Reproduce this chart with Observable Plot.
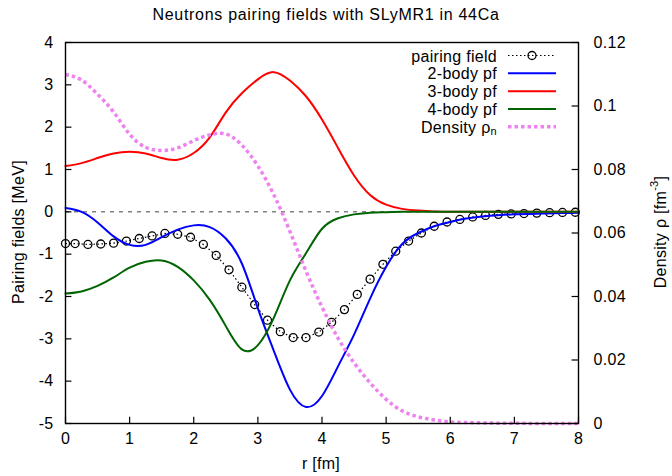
<!DOCTYPE html>
<html><head><meta charset="utf-8">
<script src="https://cdn.jsdelivr.net/npm/d3@7"></script>
<script src="https://cdn.jsdelivr.net/npm/@observablehq/plot@0.6"></script>
<style>html,body{margin:0;padding:0;background:#fff;overflow:hidden} svg{display:block}</style>
</head><body><div id="chart"></div>
<script>
// ---------- data ----------
const rGrid = [0,0.25,0.5,0.75,1,1.25,1.5,1.75,2,2.25,2.5,2.75,3,3.25,3.5,3.75,4,4.25,4.5,4.75,5,5.25,5.5,5.75,6,6.25,6.5,6.75,7,7.25,7.5,7.75,8];
const twoBody = [0.09,0.0,-0.25,-0.58,-0.78,-0.78,-0.60,-0.42,-0.32,-0.36,-0.63,-1.22,-2.28,-3.29,-4.20,-4.61,-4.35,-3.65,-2.90,-2.05,-1.30,-0.76,-0.50,-0.34,-0.24,-0.16,-0.11,-0.08,-0.06,-0.05,-0.04,-0.03,-0.02];
const threeBody = [1.08,1.15,1.27,1.38,1.42,1.38,1.27,1.23,1.39,1.76,2.35,2.80,3.13,3.30,3.10,2.73,2.18,1.51,0.86,0.40,0.17,0.07,0.03,0.01,0,0,0,0,0,0,0,0,0];
const fourBody = [-1.93,-1.88,-1.75,-1.55,-1.32,-1.18,-1.15,-1.30,-1.62,-2.08,-2.70,-3.25,-3.15,-2.50,-1.62,-0.98,-0.40,-0.15,-0.06,-0.02,-0.01,0,0,0,0,0,0,0,0,0,0,0,0];
const densityN = [0.1099,0.1082,0.1037,0.0981,0.0911,0.0870,0.0860,0.0868,0.0891,0.0909,0.0912,0.0877,0.0811,0.0720,0.0605,0.0480,0.0367,0.0269,0.0191,0.0128,0.0076,0.0040,0.0021,0.0011,0.0005,0.0003,0.0002,0.0001,0.0001,0,0,0,0];

const rPf = [0,0.15,0.35,0.55,0.75,0.95,1.15,1.35,1.55,1.75,1.95,2.15,2.35,2.55,2.75,2.95,3.15,3.35,3.55,3.75,3.95,4.15,4.35,4.55,4.75,4.95,5.15,5.35,5.55,5.75,5.95,6.15,6.35,6.55,6.75,6.95,7.15,7.35,7.55,7.75,7.95];
const pairingField = [-0.75,-0.75,-0.77,-0.76,-0.74,-0.69,-0.63,-0.57,-0.51,-0.53,-0.60,-0.77,-1.03,-1.37,-1.78,-2.19,-2.56,-2.83,-2.97,-2.97,-2.84,-2.61,-2.31,-1.95,-1.59,-1.24,-0.93,-0.69,-0.50,-0.34,-0.24,-0.18,-0.12,-0.085,-0.06,-0.05,-0.04,-0.03,-0.02,-0.015,-0.01];

const xTicks = [0,1,2,3,4,5,6,7,8];
const yTicks = [-5,-4,-3,-2,-1,0,1,2,3,4];
const densTicks = [0,0.02,0.04,0.06,0.08,0.1,0.12];
const densTickLabels = ["0","0.02","0.04","0.06","0.08","0.1","0.12"];
const legendLabels = ["pairing field","2-body pf","3-body pf","4-body pf","Density ρ"];
const legendColors = ["#000000","#0000ff","#ff0000","#006400","#ee82ee"];

const titleText = "Neutrons pairing fields with SLyMR1 in 44Ca";
const xLabel = "r [fm]";
const yLabel = "Pairing fields [MeV]";

// ---------- scales ----------
const yMin = -5, yMax = 4, dMax = 0.12;
const toLeft = d => yMin + d / dMax * (yMax - yMin);

const curves = rGrid.map((r, i) => ({r, two: twoBody[i], three: threeBody[i], four: fourBody[i], dens: toLeft(densityN[i])}));
const pf = rPf.map((r, i) => ({r, v: pairingField[i]}));
const densTickPos = densTicks.map(toLeft);

const W = 672, H = 476, mL = 65, mR = 94, mT = 42, mB = 53;
const font = "'Liberation Sans', Arial, Helvetica, sans-serif";
const fs = 16, ls = "0.3px";

const plot = Plot.plot({
  width: W, height: H, marginLeft: mL, marginRight: mR, marginTop: mT, marginBottom: mB,
  style: {fontFamily: font, fontSize: fs + "px", letterSpacing: ls, background: "#fff", color: "#000"},
  x: {domain: [0, 8]},
  y: {domain: [yMin, yMax]},
  marks: [
    Plot.ruleY([0], {stroke: "#000", strokeWidth: 1, strokeDasharray: "4,5", strokeOpacity: 0.75}),
    Plot.line(pf, {x: "r", y: "v", stroke: "#000", strokeWidth: 1.2, strokeDasharray: "1.5,2.5", strokeLinecap: "butt"}),
    Plot.dot(pf, {x: "r", y: "v", r: 4, stroke: "#000", strokeWidth: 1.3, fill: "none"}),
    Plot.line(curves, {x: "r", y: "two", stroke: "#0000ff", strokeWidth: 2, curve: "natural"}),
    Plot.line(curves, {x: "r", y: "three", stroke: "#ff0000", strokeWidth: 2, curve: "natural"}),
    Plot.line(curves, {x: "r", y: "four", stroke: "#006400", strokeWidth: 2, curve: "natural"}),
    Plot.line(curves, {x: "r", y: "dens", stroke: "#ee82ee", strokeWidth: 3.5, strokeDasharray: "3.5,3", strokeLinecap: "butt", curve: "natural"}),
    // inward ticks
    Plot.ruleY(yTicks, {x1: 0, x2: 0.1, stroke: "#000", strokeWidth: 1.2}),
    Plot.ruleY(densTickPos, {x1: 7.9, x2: 8, stroke: "#000", strokeWidth: 1.2}),
    Plot.ruleX(xTicks, {y1: yMin, y2: yMin + 0.15, stroke: "#000", strokeWidth: 1.2}),
    Plot.axisX({ticks: xTicks, tickSize: 0, tickPadding: 9, label: null, tickFormat: d => String(d)}),
    Plot.axisY({ticks: yTicks, tickSize: 0, tickPadding: 12, label: null, tickFormat: d => String(d)}),
    Plot.axisY(densTickPos, {anchor: "right", tickSize: 0, tickPadding: 15, label: null,
      tickFormat: (d, i) => densTickLabels[i]}),
    Plot.frame({stroke: "#000", strokeWidth: 1.4})
  ]
});

const svg = d3.select(plot);
const txt = (x, y, s, anchor) => svg.append("text")
  .attr("x", x).attr("y", y).attr("text-anchor", anchor || "middle")
  .attr("dominant-baseline", "central").attr("font-family", font).attr("font-size", fs)
  .attr("letter-spacing", ls).attr("fill", "#000").text(s);

// title
txt(326, 14, titleText).attr("letter-spacing", "0.7px");
// x label
txt(321, 463, xLabel);
// left y label
txt(0, 0, yLabel).attr("transform", "translate(18,232) rotate(-90)");
// right y label
const rl = svg.append("text").attr("transform", "translate(660,232) rotate(-90)")
  .attr("text-anchor", "middle").attr("dominant-baseline", "central")
  .attr("font-family", font).attr("font-size", fs).attr("letter-spacing", ls).attr("fill", "#000");
rl.append("tspan").text("Density ρ [fm");
rl.append("tspan").attr("font-size", 11).attr("dy", -6).text("-3");
rl.append("tspan").attr("dy", 6).text("]");

// legend
const lg = svg.append("g");
const rowY = [55.5, 73.3, 91.2, 109, 126.8];
legendLabels.forEach((lab, i) => {
  const t = lg.append("text").attr("x", 497).attr("y", rowY[i]).attr("text-anchor", "end")
    .attr("dominant-baseline", "central").attr("font-family", font).attr("font-size", fs)
    .attr("letter-spacing", ls).attr("fill", "#000");
  t.append("tspan").text(lab);
  if (i === 4) t.append("tspan").attr("font-size", 11).attr("dy", 4).text("n");
  const ln = lg.append("line").attr("x1", 508).attr("x2", 556).attr("y1", rowY[i]).attr("y2", rowY[i])
    .attr("stroke", legendColors[i]);
  if (i === 0) {
    ln.attr("stroke-width", 1.2).attr("stroke-dasharray", "1.5,2.5");
    lg.append("circle").attr("cx", 532).attr("cy", rowY[i]).attr("r", 4).attr("fill", "none")
      .attr("stroke", "#000").attr("stroke-width", 1.3);
  } else if (i === 4) {
    ln.attr("stroke-width", 3.5).attr("stroke-dasharray", "3.5,3");
  } else {
    ln.attr("stroke-width", 2);
  }
});

document.getElementById("chart").appendChild(plot);
</script>
</body></html>
